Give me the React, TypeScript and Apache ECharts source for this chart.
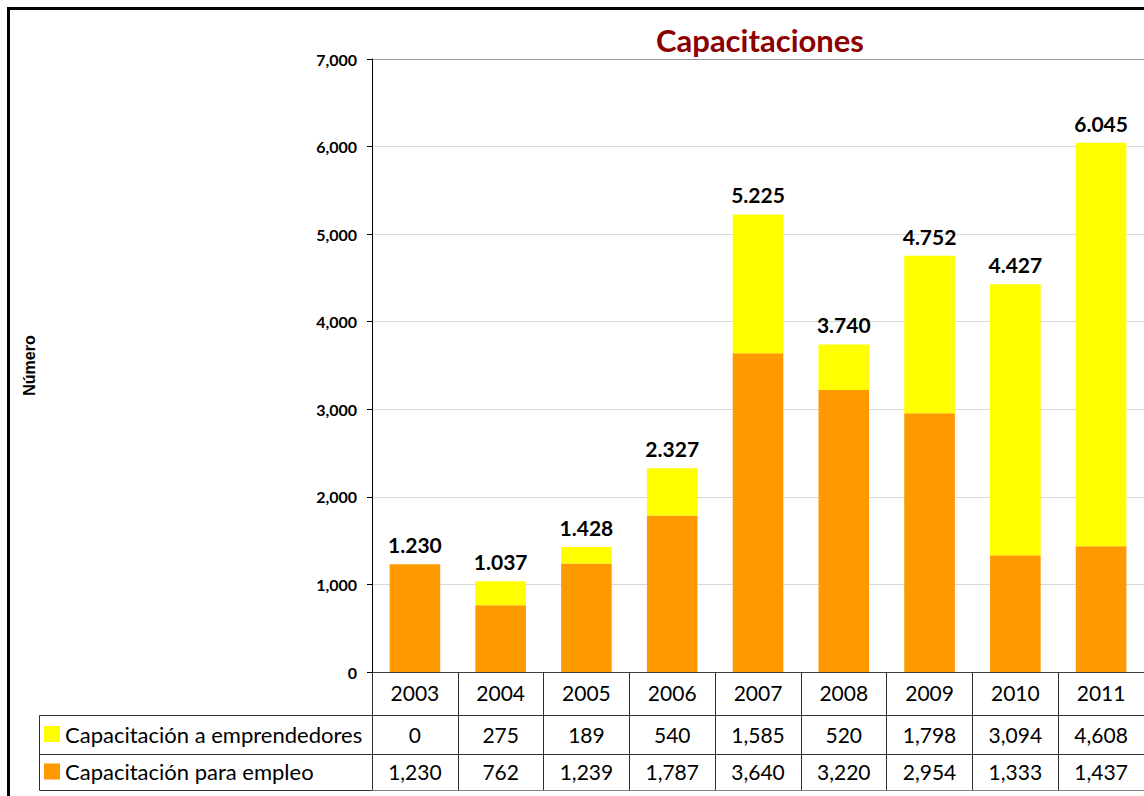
import React, { useEffect, useRef } from "react";
import * as echarts from "echarts";

const years = ["2003", "2004", "2005", "2006", "2007", "2008", "2009", "2010", "2011"];
const emprendedores = [0, 275, 189, 540, 1585, 520, 1798, 3094, 4608];
const empleo = [1230, 762, 1239, 1787, 3640, 3220, 2954, 1333, 1437];
const seriesNames = ["Capacitación a emprendedores", "Capacitación para empleo"];
const yMax = 7000;
const yStep = 1000;

const fmtComma = (n: number) => n.toLocaleString("en-US");
const fmtDot = (n: number) => fmtComma(n).replace(/,/g, ".");

const FONT = "Lato";
const LINE = "#303030";

export default function App() {
  const ref = useRef<HTMLDivElement>(null);
  useEffect(() => {
    if (!ref.current) return;
    const chart = echarts.init(ref.current, null, { renderer: "svg" });
    const totals = years.map((_, i) => emprendedores[i] + empleo[i]);
    const tableAxis = (offset: number, tickLen: number, values: number[] | null, margin: number, lineColor = LINE) => ({
      type: "category",
      data: years,
      position: "bottom",
      offset,
      gridIndex: 0,
      axisLine: { show: true, lineStyle: { color: lineColor, width: 1 } },
      axisTick: { show: tickLen > 0, length: tickLen, lineStyle: { color: LINE } },
      axisLabel: {
        show: values !== null,
        interval: 0,
        margin,
        fontFamily: FONT,
        fontSize: 21,
        color: "#000",
        formatter: (_v: string, idx: number) => (values ? fmtComma(values[idx]) : ""),
      },
      splitLine: { show: false },
    });
    chart.setOption({
      animation: false,
      backgroundColor: "#fff",
      title: {
        text: "Capacitaciones",
        left: 755,
        top: 19,
        textAlign: "center",
        textStyle: { fontFamily: FONT, fontSize: 31, fontWeight: "bold", color: "#8B0000" },
      },
      legend: {
        data: seriesNames,
        orient: "vertical",
        left: 44,
        top: 722,
        padding: 0,
        itemWidth: 16,
        itemHeight: 16,
        itemGap: 13.5,
        icon: "rect",
        selectedMode: false,
        textStyle: { fontFamily: FONT, fontSize: 22, color: "#000", lineHeight: 24 },
      },
      grid: { left: 372, right: -2, top: 59, bottom: 124, containLabel: false },
      xAxis: [
        {
          type: "category",
          data: years,
          position: "bottom",
          axisLine: { show: true, lineStyle: { color: "#404040", width: 1 } },
          axisTick: { show: true, length: 43, lineStyle: { color: LINE } },
          axisLabel: { interval: 0, margin: 10, fontFamily: FONT, fontSize: 21, color: "#000" },
          splitLine: { show: false },
        },
        tableAxis(43, 39, emprendedores, 9),
        tableAxis(82, 36, empleo, 7),
        tableAxis(118, 0, null, 0, "#808080"),
      ],
      yAxis: {
        type: "value",
        min: 0,
        max: yMax,
        interval: yStep,
        name: "Número",
        nameLocation: "middle",
        nameGap: 335,
        nameRotate: 90,
        nameTextStyle: { fontFamily: "Liberation Sans", fontWeight: "bold", fontSize: 16, color: "#000" },
        axisLine: { show: true, lineStyle: { color: "#000" } },
        axisTick: { show: true, length: 5, lineStyle: { color: "#000" } },
        axisLabel: {
          margin: 15,
          fontFamily: FONT,
          fontSize: 16,
          fontWeight: "bold",
          color: "#000",
          formatter: (v: number) => fmtComma(v),
        },
        splitLine: {
          show: true,
          lineStyle: {
            color: ["#d9d9d9", "#d9d9d9", "#d9d9d9", "#d9d9d9", "#d9d9d9", "#d9d9d9", "#d9d9d9", "#999999"],
            width: 1,
          },
        },
      },
      series: [
        {
          name: seriesNames[1],
          type: "bar",
          stack: "total",
          data: empleo,
          barWidth: "59%",
          itemStyle: { color: "#FF9900" },
        },
        {
          name: seriesNames[0],
          type: "bar",
          stack: "total",
          data: emprendedores,
          barWidth: "59%",
          itemStyle: { color: "#FFFF00" },
          label: {
            show: true,
            position: "top",
            distance: 9,
            fontFamily: FONT,
            fontSize: 21,
            fontWeight: "bold",
            color: "#000",
            formatter: (p: any) => fmtDot(totals[p.dataIndex]),
          },
        },
      ],
      graphic: [
        {
          type: "polyline",
          shape: { points: [[372, 715.5], [39.5, 715.5], [39.5, 790.5], [372, 790.5]] },
          style: { stroke: LINE, fill: "none", lineWidth: 1 },
        },
        {
          type: "line",
          shape: { x1: 39.5, y1: 754.5, x2: 372, y2: 754.5 },
          style: { stroke: LINE, lineWidth: 1 },
        },
        {
          type: "polyline",
          shape: { points: [[8.5, 796], [8.5, 8.5], [1144, 8.5]] },
          style: { stroke: "#000", fill: "none", lineWidth: 3 },
        },
      ],
    });
    return () => chart.dispose();
  }, []);
  return <div ref={ref} style={{ position: "fixed", left: 0, top: 0, width: 1144, height: 796 }} />;
}
